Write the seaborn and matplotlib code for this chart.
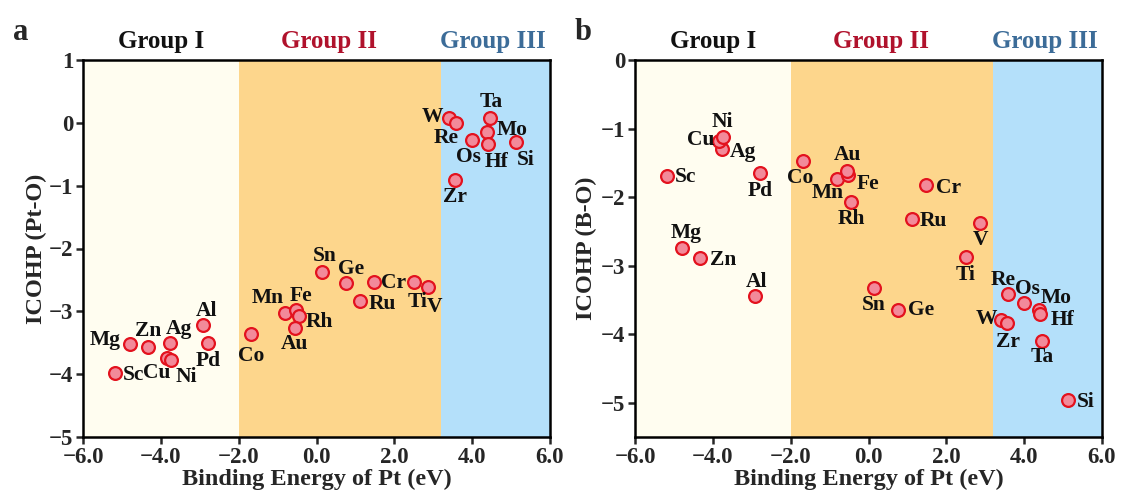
import matplotlib
matplotlib.use("Agg")
import matplotlib.pyplot as plt
import seaborn as sns
import pandas as pd

sns.set_style("ticks")
plt.rcParams['font.family'] = ['Liberation Serif', 'DejaVu Serif']
plt.rcParams['font.weight'] = 'bold'
plt.rcParams['axes.unicode_minus'] = True

# ---------------- data ----------------
elements = ["Mg", "Zn", "Ag", "Al", "Pd", "Cu", "Ni", "Sc",
            "Co", "Mn", "Fe", "Rh", "Au", "Sn", "Ge", "Ru", "Cr", "Ti", "V",
            "W", "Re", "Os", "Ta", "Mo", "Hf", "Si", "Zr"]
binding_energy = [-4.78, -4.32, -3.76, -2.92, -2.78, -3.84, -3.75, -5.18,
                  -1.69, -0.80, -0.52, -0.46, -0.56, 0.15, 0.76, 1.13, 1.49, 2.50, 2.87,
                  3.41, 3.58, 4.00, 4.46, 4.37, 4.41, 5.12, 3.56]
icohp_pto = [-3.52, -3.57, -3.50, -3.22, -3.50, -3.74, -3.77, -3.98,
             -3.36, -3.03, -2.98, -3.07, -3.26, -2.37, -2.55, -2.83, -2.53, -2.53, -2.61,
             0.08, 0.00, -0.27, 0.08, -0.14, -0.33, -0.30, -0.91]
icohp_bo = [-2.74, -2.89, -1.30, -3.44, -1.65, -1.18, -1.12, -1.69,
            -1.47, -1.74, -1.68, -2.07, -1.62, -3.32, -3.64, -2.32, -1.82, -2.87, -2.38,
            -3.80, -3.41, -3.55, -4.10, -3.65, -3.70, -4.96, -3.84]
group_names = ["Group I", "Group II", "Group III"]
group_bounds = [-6.0, -2.0, 3.2, 6.0]

df = pd.DataFrame({"element": elements, "be": binding_energy,
                   "pto": icohp_pto, "bo": icohp_bo})

# label offsets (pixels) for each panel
offs_a = {"Mg": (-25, 4), "Zn": (0, 16), "Ag": (9, 14), "Al": (4, 14), "Pd": (0, -18),
          "Cu": (-10, -15), "Ni": (16, -17), "Sc": (19, -2), "Co": (0, -22),
          "Mn": (-18, 15), "Fe": (5, 14), "Rh": (21, -6), "Au": (0, -16), "Sn": (2, 16),
          "Ge": (5, 14), "Ru": (22, -3), "Cr": (19, -1), "Ti": (4, -20), "V": (6, -20),
          "W": (-17, 1), "Re": (-10, -15), "Os": (-4, -17), "Ta": (1, 16), "Mo": (26, 2),
          "Hf": (8, -18), "Si": (10, -18), "Zr": (0, -17)}
offs_b = {"Mg": (4, 15), "Zn": (23, -2), "Ag": (21, -3), "Al": (2, 14), "Pd": (0, -18),
          "Cu": (-18, 1), "Ni": (0, 15), "Sc": (19, -1), "Co": (-3, -17),
          "Mn": (-10, -14), "Fe": (20, -9), "Rh": (1, -17), "Au": (1, 16), "Sn": (-1, -17),
          "Ge": (23, 0), "Ru": (21, -2), "Cr": (22, -3), "Ti": (0, -18), "V": (0, -17),
          "W": (-15, 1), "Re": (-5, 14), "Os": (3, 14), "Ta": (0, -16), "Mo": (18, 12),
          "Hf": (22, -6), "Si": (18, -2), "Zr": (1, -19)}

bg_colors = ["#FFFDF0", "#FDD68C", "#B4E0FA"]
title_colors = ["#111111", "#B0122C", "#3C6C98"]
title_x = [-4.0, 0.33, 4.54]

fig = plt.figure(figsize=(11.23, 4.99), dpi=100)
ax_a = fig.add_axes([83 / 1123, 62 / 499, 467 / 1123, 377 / 499])
ax_b = fig.add_axes([635 / 1123, 62 / 499, 467 / 1123, 377 / 499])


def draw(ax, ycol, offs, ylim, yticks, ylabel, letter, letter_x, ylabelpad):
    for i in range(3):
        ax.axvspan(group_bounds[i], group_bounds[i + 1], color=bg_colors[i], lw=0, zorder=0)
    sns.scatterplot(data=df, x="be", y=ycol, ax=ax, s=85, color="#F28A9A",
                    edgecolor="#E3121E", linewidth=1.6, zorder=3, legend=False)
    for e, xv, yv in zip(df["element"], df["be"], df[ycol]):
        dx, dy = offs[e]
        ax.annotate(e, (xv, yv), xytext=(dx, dy), textcoords="offset pixels",
                    ha="center", va="center", fontsize=15.5, fontweight="bold",
                    color="#111111", zorder=4)
    ax.set_xlim(-6, 6)
    ax.set_ylim(*ylim)
    ax.set_xticks([-6, -4, -2, 0, 2, 4, 6])
    ax.set_xticklabels(["\u22126.0", "\u22124.0", "\u22122.0", "0.0", "2.0", "4.0", "6.0"])
    ax.set_yticks(yticks)
    ax.set_yticklabels([str(t).replace("-", "\u2212") for t in yticks])
    ax.tick_params(axis="both", labelsize=16.5, width=1.8, length=5, direction="out",
                   top=False, right=False, pad=2)
    for lab in ax.get_xticklabels() + ax.get_yticklabels():
        lab.set_fontweight("bold")
    for sp in ax.spines.values():
        sp.set_linewidth(1.8)
        sp.set_visible(True)
        sp.set_color("black")
    ax.set_xlabel("Binding Energy of Pt (eV)", fontsize=17.5, fontweight="bold", labelpad=1)
    ax.set_ylabel(ylabel, fontsize=17.5, fontweight="bold", labelpad=ylabelpad)
    for name, tx, tc in zip(group_names, title_x, title_colors):
        ax.text(tx, 1.05, name, transform=ax.get_xaxis_transform(), ha="center",
                va="center", fontsize=18, fontweight="bold", color=tc)
    ax.text(letter_x, 1.074, letter, transform=ax.transAxes, ha="center", va="center",
            fontsize=22, fontweight="bold")


draw(ax_a, "pto", offs_a, (-5, 1), [-5, -4, -3, -2, -1, 0, 1], "ICOHP (Pt-O)", "a",
     -0.133, 1)
draw(ax_b, "bo", offs_b, (-5.5, 0), [-5, -4, -3, -2, -1, 0], "ICOHP (B-O)", "b",
     -0.111, 3)

fig.savefig("out.png", dpi=100)
